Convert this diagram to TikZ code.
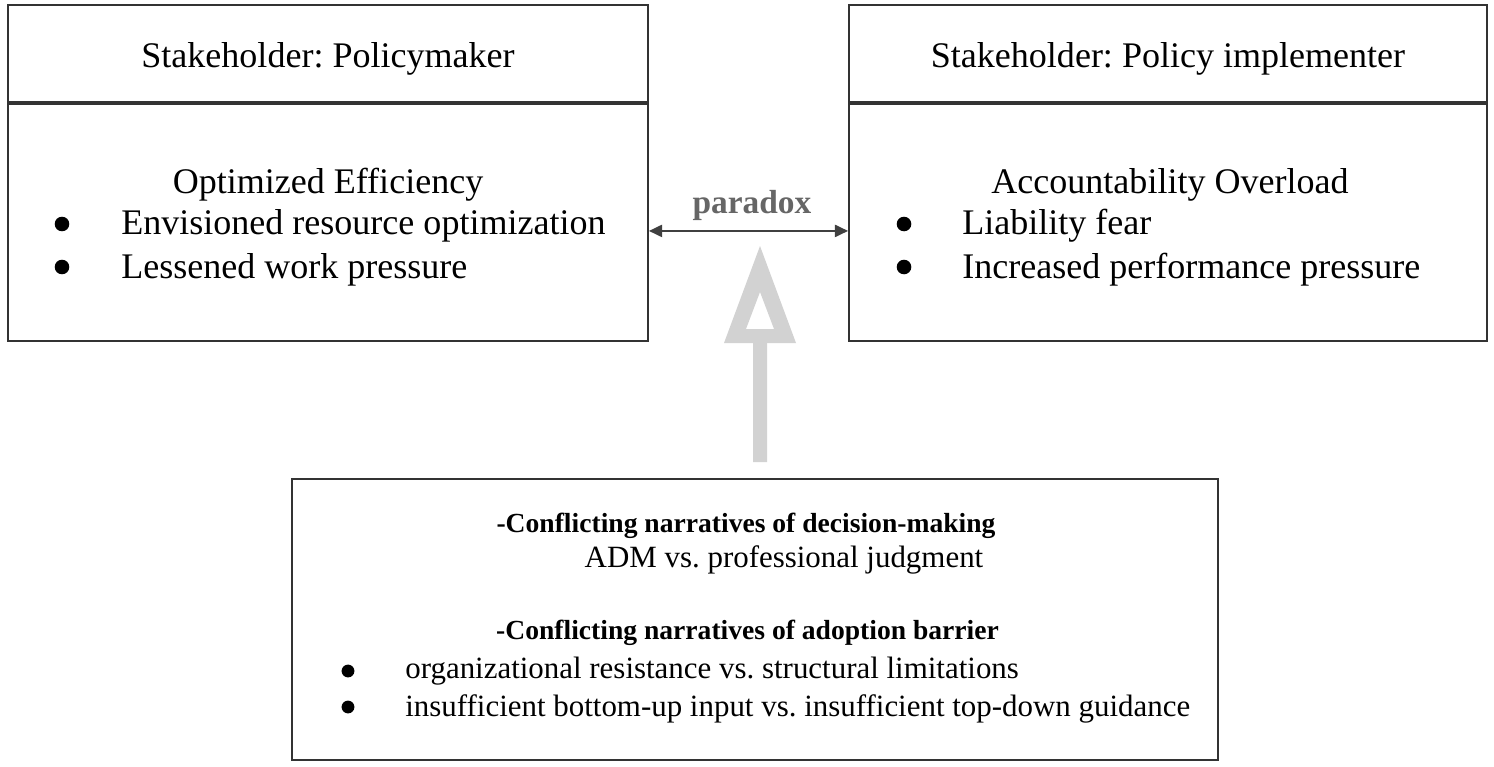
\documentclass[tikz,border=0pt]{standalone}
\usepackage{fontspec}
\setmainfont{Liberation Serif}
\usetikzlibrary{arrows.meta,positioning,calc}
\frenchspacing

\begin{document}
\begin{tikzpicture}[
    box/.style={draw=black!80,line width=1.1pt,inner sep=0pt},
    big/.style={font=\fontsize{20.5}{24}\selectfont},
    small/.style={font=\fontsize{17.6}{21}\selectfont},
    smallbf/.style={font=\fontsize{15.7}{19}\selectfont\bfseries},
    item/.style={anchor=west,inner sep=0pt},
    dot/.style={circle,fill=black,inner sep=0pt,minimum size=8.3pt},
    sdot/.style={circle,fill=black,inner sep=0pt,minimum size=7.3pt},
    pdx/.style={{Triangle[length=7.5pt,width=7pt]}-{Triangle[length=7.5pt,width=7pt]},line width=0.9pt,draw=black!75},
    hollow/.style={fill=gray!35,even odd rule},
]
\useasboundingbox (0,0) rectangle (29.88,-15.32);
% stakeholder boxes
\node[box,minimum width=12.8cm,minimum height=1.94cm](pmHead)at(6.56,-1.07){};
\node[box,minimum width=12.8cm,minimum height=4.74cm,below=0pt of pmHead](pmBody){};
\node[box,minimum width=12.76cm,minimum height=1.94cm](piHead)at(23.36,-1.07){};
\node[box,minimum width=12.76cm,minimum height=4.74cm,below=0pt of piHead](piBody){};
\node[big](pmTitle)at(6.56,-1.17){Stakeholder: Policymaker};
\node[big](piTitle)at(23.36,-1.17){Stakeholder: Policy implementer};
\node[big](pmName)at(6.56,-3.7){Optimized Efficiency};
\node[dot](pmB1)at(1.24,-4.48){};
\node[big,item](pmT1)at(2.42,-4.52){Envisioned resource optimization};
\node[dot](pmB2)at(1.24,-5.34){};
\node[big,item](pmT2)at(2.42,-5.4){Lessened work pressure};
\node[big](piName)at(23.4,-3.7){Accountability Overload};
\node[dot](piB1)at(18.08,-4.48){};
\node[big,item](piT1)at(19.24,-4.52){Liability fear};
\node[dot](piB2)at(18.08,-5.34){};
\node[big,item](piT2)at(19.24,-5.4){Increased performance pressure};
% paradox
\draw[pdx]([yshift=-0.17cm]pmBody.east)--([yshift=-0.17cm]piBody.west);
\node[font=\fontsize{19}{22}\selectfont\bfseries,text=black!60](pdxLabel)at(15.04,-4.1){paradox};
% narratives box
\node[box,minimum width=18.52cm,minimum height=5.62cm](low)at(15.1,-12.39){};
\node[smallbf](n1)at(14.92,-10.52){-Conflicting narratives of decision-making};
\node[small](n2)at(15.68,-11.2){ADM vs. professional judgment};
\node[smallbf](n3)at(14.95,-12.66){-Conflicting narratives of adoption barrier};
\node[sdot](lb1)at(6.96,-13.42){};
\node[small,item](lt1)at(8.1,-13.42){organizational resistance vs. structural limitations};
\node[sdot](lb2)at(6.96,-14.14){};
\node[small,item](lt2)at(8.1,-14.18){insufficient bottom-up input vs. insufficient top-down guidance};
% big hollow arrow
\coordinate(tip)at(15.2,-4.92);
\draw[gray!35,line width=0.28cm]([xshift=0.1cm,yshift=0.32cm]low.north)--($(tip)+(0,-1.94)$);
\fill[hollow](tip)--++(0.72,-1.94)--++(-1.44,0)--cycle
    ($(tip)+(0,-0.92)$)--++(0.28,-0.74)--++(-0.56,0)--cycle;
\end{tikzpicture}
\end{document}
